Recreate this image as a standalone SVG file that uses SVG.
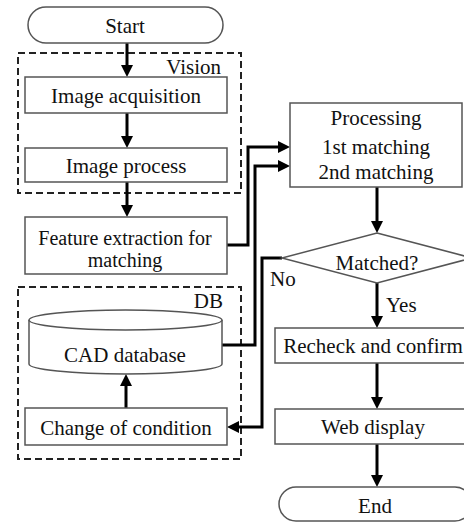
<svg xmlns="http://www.w3.org/2000/svg" width="464" height="522" viewBox="0 0 464 522">
  <style>
    .box { fill: #ffffff; stroke: #555555; stroke-width: 1.5; }
    .group { fill: none; stroke: #222222; stroke-width: 2; stroke-dasharray: 7 4; }
    .wire { fill: none; stroke: #000000; stroke-width: 3; }
    text { font-family: "Liberation Serif", "Times New Roman", serif; font-size: 21px; fill: #111111; }
    .c { text-anchor: middle; }
    .r { text-anchor: end; }
    .sm { font-size: 20px; }
  </style>
  <defs>
    <marker id="arrow" viewBox="0 0 12 12" refX="4" refY="6" markerWidth="12" markerHeight="12" markerUnits="userSpaceOnUse" orient="auto">
      <path d="M0,0 L12,6 L0,12 z" fill="#000000"/>
    </marker>
  </defs>

  <rect width="464" height="522" fill="#ffffff"/>

  <!-- dashed grouping frames -->
  <g id="vision-group">
    <rect class="group" x="18" y="53" width="223" height="140"/>
    <text class="r" x="221" y="74">Vision</text>
  </g>
  <g id="db-group">
    <rect class="group" x="18" y="287" width="223" height="172"/>
    <text class="r" x="223" y="308">DB</text>
  </g>

  <!-- connectors -->
  <g id="connectors">
    <path class="wire" d="M127,43 V69" marker-end="url(#arrow)"/>
    <path class="wire" d="M127,113 V140" marker-end="url(#arrow)"/>
    <path class="wire" d="M127,182 V209" marker-end="url(#arrow)"/>
    <path class="wire" d="M126,408 V382" marker-end="url(#arrow)"/>
    <path class="wire" d="M227,245 H248 V147 H282" marker-end="url(#arrow)"/>
    <path class="wire" d="M222,345 H255 V166 H282" marker-end="url(#arrow)"/>
    <path class="wire" d="M282,258 H262 V427 H235" marker-end="url(#arrow)"/>
    <path class="wire" d="M377,187 V225" marker-end="url(#arrow)"/>
    <path class="wire" d="M377,283 V320" marker-end="url(#arrow)"/>
    <path class="wire" d="M377,363 V401" marker-end="url(#arrow)"/>
    <path class="wire" d="M377,444 V479" marker-end="url(#arrow)"/>
    <text x="270" y="286">No</text>
    <text x="386" y="312">Yes</text>
  </g>

  <g id="start">
    <rect class="box" x="28" y="7" width="195" height="36" rx="18" ry="18"/>
    <text class="c" x="125" y="33">Start</text>
  </g>
  <g id="image-acquisition">
    <rect class="box" x="25" y="77" width="202" height="36"/>
    <text class="c" x="126" y="103">Image acquisition</text>
  </g>
  <g id="image-process">
    <rect class="box" x="25" y="148" width="202" height="34"/>
    <text class="c" x="126" y="173">Image process</text>
  </g>
  <g id="feature-extraction">
    <rect class="box" x="25" y="217" width="202" height="57"/>
    <text class="c sm" x="125" y="245">Feature extraction for</text>
    <text class="c sm" x="125" y="267">matching</text>
  </g>
  <g id="cad-database">
    <path class="box" d="M29,320 V364 A96.5,10 0 0 0 222,364 V320"/>
    <ellipse class="box" cx="125.5" cy="320" rx="96.5" ry="10"/>
    <text class="c" x="125" y="362">CAD database</text>
  </g>
  <g id="change-of-condition">
    <rect class="box" x="25" y="408" width="202" height="37"/>
    <text class="c" x="126" y="435">Change of condition</text>
  </g>
  <g id="processing">
    <rect class="box" x="290" y="103" width="172" height="84"/>
    <text class="c" x="376" y="125">Processing</text>
    <text class="c" x="376" y="154">1st matching</text>
    <text class="c" x="376" y="179">2nd matching</text>
  </g>
  <g id="matched">
    <polygon class="box" points="377,233 472,258 377,283 282,258"/>
    <text class="c" x="377" y="270">Matched?</text>
  </g>
  <g id="recheck">
    <rect class="box" x="275" y="328" width="197" height="35"/>
    <text class="c" x="373" y="353">Recheck and confirm</text>
  </g>
  <g id="web-display">
    <rect class="box" x="275" y="409" width="197" height="35"/>
    <text class="c" x="373" y="434">Web display</text>
  </g>
  <g id="end">
    <rect class="box" x="279" y="487" width="193" height="34" rx="17" ry="17"/>
    <text class="c" x="375" y="513">End</text>
  </g>
</svg>
